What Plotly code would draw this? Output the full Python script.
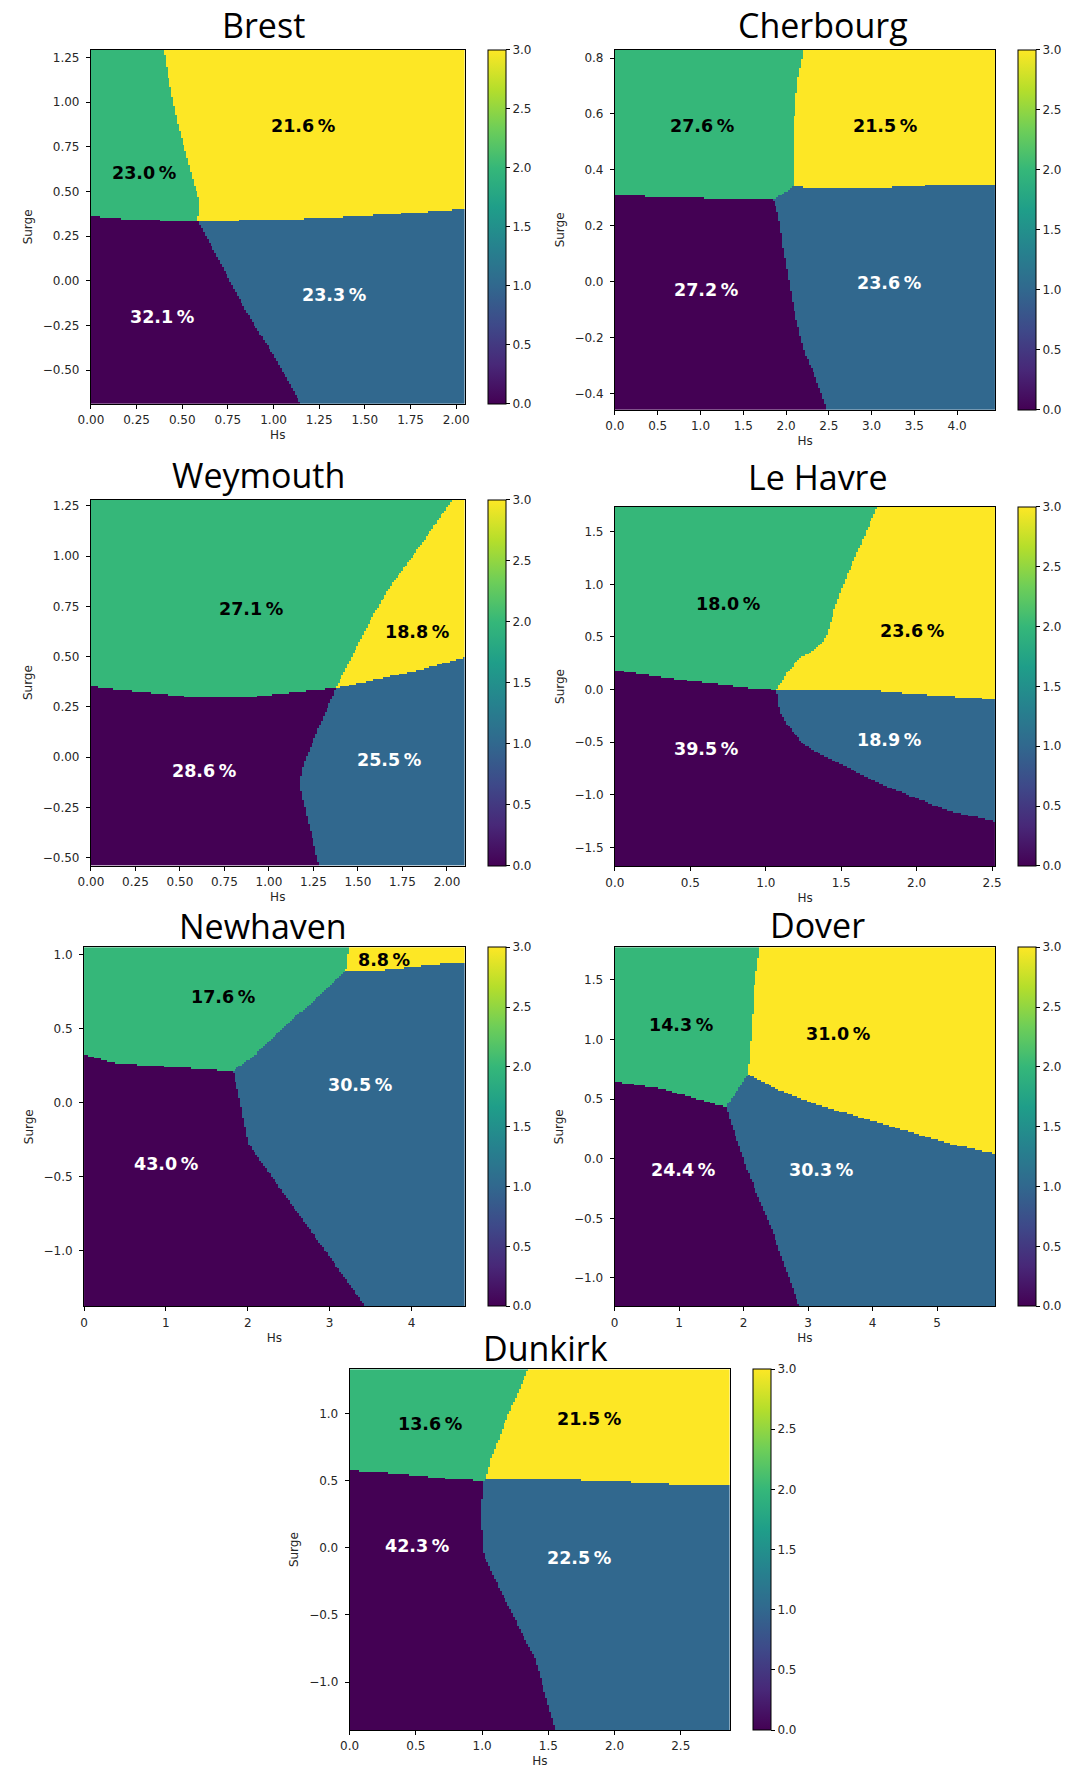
import numpy as np
import plotly.graph_objects as go

# ======================= DATA =======================
# Each station: grid extent, boundary polylines,
# cluster shares (cluster 0,1,2,3) and where the share labels sit.

# ---------- Brest ----------
brest_hs_extent = [0.0, 2.046]
brest_surge_extent = [-0.690, 1.293]
brest_split_hs = [0.000, 0.180, 0.386, 0.586, 1.054, 1.425, 1.796, 2.046]
brest_split_surge = [0.360, 0.345, 0.336, 0.332, 0.341, 0.358, 0.382, 0.401]
brest_low_surge = [-0.690, -0.448, -0.205, -0.037, 0.149, 0.332]
brest_low_hs = [1.147, 1.017, 0.868, 0.776, 0.683, 0.586]
brest_up_surge = [0.332, 0.448, 0.522, 0.728, 0.858, 1.045, 1.194, 1.293]
brest_up_hs = [0.586, 0.594, 0.571, 0.516, 0.479, 0.442, 0.414, 0.399]
brest_pct = [32.1, 23.3, 23.0, 21.6]
brest_pct_hs = [0.39, 1.332, 0.293, 1.161]
brest_pct_surge = [-0.205, -0.078, 0.603, 0.868]
brest_xticks = [0.0, 0.25, 0.5, 0.75, 1.0, 1.25, 1.5, 1.75, 2.0]
brest_xtext = ["0.00", "0.25", "0.50", "0.75", "1.00", "1.25", "1.50", "1.75", "2.00"]
brest_yticks = [-0.5, -0.25, 0.0, 0.25, 0.5, 0.75, 1.0, 1.25]
brest_ytext = ["\u22120.50", "\u22120.25", "0.00", "0.25", "0.50", "0.75", "1.00", "1.25"]

# ---------- Cherbourg ----------
cher_hs_extent = [0.0, 4.447]
cher_surge_extent = [-0.459, 0.830]
cher_split_hs = [0.000, 0.428, 1.300, 1.853, 1.972, 2.091, 2.329, 3.121, 3.834, 4.447]
cher_split_surge = [0.308, 0.304, 0.296, 0.293, 0.314, 0.340, 0.334, 0.335, 0.347, 0.347]
cher_low_surge = [-0.459, -0.330, -0.247, -0.092, 0.111, 0.242, 0.293]
cher_low_hs = [2.479, 2.329, 2.210, 2.091, 1.972, 1.913, 1.853]
cher_up_surge = [0.340, 0.433, 0.528, 0.647, 0.743, 0.830]
cher_up_hs = [2.091, 2.083, 2.091, 2.111, 2.151, 2.210]
cher_pct = [27.2, 23.6, 27.6, 21.5]
cher_pct_hs = [1.061, 3.208, 1.022, 3.152]
cher_pct_surge = [-0.030, -0.006, 0.558, 0.558]
cher_xticks = [0.0, 0.5, 1.0, 1.5, 2.0, 2.5, 3.0, 3.5, 4.0]
cher_xtext = ["0.0", "0.5", "1.0", "1.5", "2.0", "2.5", "3.0", "3.5", "4.0"]
cher_yticks = [-0.4, -0.2, 0.0, 0.2, 0.4, 0.6, 0.8]
cher_ytext = ["\u22120.4", "\u22120.2", "0.0", "0.2", "0.4", "0.6", "0.8"]

# ---------- Weymouth ----------
wey_hs_extent = [0.0, 2.099]
wey_surge_extent = [-0.538, 1.280]
wey_split_hs = [0.000, 0.129, 0.320, 0.605, 0.891, 1.176, 1.376, 1.652, 1.842, 2.099]
wey_split_surge = [0.353, 0.339, 0.323, 0.295, 0.298, 0.328, 0.344, 0.397, 0.434, 0.497]
wey_low_surge = [-0.538, -0.298, -0.132, -0.033, 0.132, 0.344]
wey_low_hs = [1.281, 1.214, 1.172, 1.195, 1.271, 1.376]
wey_up_surge = [0.344, 0.497, 0.695, 0.861, 1.043, 1.192, 1.280]
wey_up_hs = [1.376, 1.461, 1.576, 1.690, 1.842, 1.956, 2.032]
wey_pct = [28.6, 25.5, 27.1, 18.8]
wey_pct_hs = [0.634, 1.675, 0.900, 1.833]
wey_pct_surge = [-0.066, -0.013, 0.737, 0.621]
wey_xticks = [0.0, 0.25, 0.5, 0.75, 1.0, 1.25, 1.5, 1.75, 2.0]
wey_xtext = ["0.00", "0.25", "0.50", "0.75", "1.00", "1.25", "1.50", "1.75", "2.00"]
wey_yticks = [-0.5, -0.25, 0.0, 0.25, 0.5, 0.75, 1.0, 1.25]
wey_ytext = ["\u22120.50", "\u22120.25", "0.00", "0.25", "0.50", "0.75", "1.00", "1.25"]

# ---------- Le Havre ----------
lh_hs_extent = [0.0, 2.522]
lh_surge_extent = [-1.677, 1.737]
lh_split_hs = [0.000, 0.422, 0.872, 1.074, 1.658, 1.995, 2.522]
lh_split_surge = [0.187, 0.100, 0.022, 0.000, 0.000, -0.040, -0.089]
lh_low_surge = [-1.244, -1.149, -1.022, -0.896, -0.737, -0.610, -0.516, -0.326, -0.200, 0.000]
lh_low_hs = [2.522, 2.219, 1.995, 1.770, 1.545, 1.366, 1.253, 1.141, 1.096, 1.074]
lh_up_surge = [0.000, 0.165, 0.307, 0.377, 0.465, 0.592, 0.750, 0.940, 1.098, 1.320, 1.540, 1.737]
lh_up_hs = [1.074, 1.141, 1.231, 1.321, 1.388, 1.422, 1.455, 1.500, 1.545, 1.613, 1.680, 1.740]
lh_pct = [39.5, 18.9, 18.0, 23.6]
lh_pct_hs = [0.602, 1.819, 0.748, 1.972]
lh_pct_surge = [-0.563, -0.478, 0.813, 0.554]
lh_xticks = [0.0, 0.5, 1.0, 1.5, 2.0, 2.5]
lh_xtext = ["0.0", "0.5", "1.0", "1.5", "2.0", "2.5"]
lh_yticks = [-1.5, -1.0, -0.5, 0.0, 0.5, 1.0, 1.5]
lh_ytext = ["\u22121.5", "\u22121.0", "\u22120.5", "0.0", "0.5", "1.0", "1.5"]

# ---------- Newhaven ----------
nh_hs_extent = [0.0, 4.649]
nh_surge_extent = [-1.376, 1.052]
nh_split_hs = [0.000, 0.372, 1.198, 1.818, 2.107, 2.438, 2.851, 3.182, 3.678, 4.298, 4.649]
nh_split_surge = [0.324, 0.268, 0.236, 0.214, 0.331, 0.511, 0.714, 0.890, 0.900, 0.935, 0.946]
nh_low_surge = [-1.376, -0.930, -0.615, -0.277, 0.016, 0.214]
nh_low_hs = [3.430, 2.851, 2.438, 2.004, 1.901, 1.818]
nh_up_surge = [0.880, 1.052]
nh_up_hs = [3.190, 3.230]
nh_pct = [43.0, 30.5, 17.6, 8.8]
nh_pct_hs = [1.000, 3.376, 1.702, 3.665]
nh_pct_surge = [-0.417, 0.117, 0.718, 0.966]
nh_xticks = [0, 1, 2, 3, 4]
nh_xtext = ["0", "1", "2", "3", "4"]
nh_yticks = [-1.0, -0.5, 0.0, 0.5, 1.0]
nh_ytext = ["\u22121.0", "\u22120.5", "0.0", "0.5", "1.0"]

# ---------- Dover ----------
dv_hs_extent = [0.0, 5.904]
dv_surge_extent = [-1.237, 1.774]
dv_split_hs = [0.000, 0.726, 1.725, 2.066, 2.566, 3.092, 4.143, 5.195, 5.904]
dv_split_surge = [0.648, 0.587, 0.433, 0.704, 0.573, 0.461, 0.293, 0.126, 0.042]
dv_low_surge = [-1.237, -0.628, -0.070, 0.433]
dv_low_hs = [2.855, 2.461, 2.040, 1.725]
dv_up_surge = [0.704, 1.047, 1.466, 1.774]
dv_up_hs = [2.066, 2.119, 2.171, 2.250]
dv_pct = [24.4, 30.3, 14.3, 31.0]
dv_pct_hs = [1.067, 3.197, 1.025, 3.470]
dv_pct_surge = [-0.092, -0.092, 1.123, 1.042]
dv_xticks = [0, 1, 2, 3, 4, 5]
dv_xtext = ["0", "1", "2", "3", "4", "5"]
dv_yticks = [-1.0, -0.5, 0.0, 0.5, 1.0, 1.5]
dv_ytext = ["\u22121.0", "\u22120.5", "0.0", "0.5", "1.0", "1.5"]

# ---------- Dunkirk ----------
dk_hs_extent = [0.0, 2.871]
dk_surge_extent = [-1.357, 1.330]
dk_split_hs = [0.000, 0.353, 0.736, 1.005, 1.030, 1.503, 2.014, 2.526, 2.871]
dk_split_surge = [0.576, 0.553, 0.516, 0.499, 0.511, 0.511, 0.496, 0.471, 0.467]
dk_low_surge = [-1.357, -0.824, -0.526, -0.278, -0.030, 0.268, 0.499]
dk_low_hs = [1.554, 1.401, 1.247, 1.120, 1.005, 0.992, 1.005]
dk_up_surge = [0.511, 0.665, 0.988, 1.330]
dk_up_hs = [1.030, 1.069, 1.196, 1.350]
dk_pct = [42.3, 22.5, 13.6, 21.5]
dk_pct_hs = [0.506, 1.733, 0.603, 1.810]
dk_pct_surge = [0.015, -0.079, 0.921, 0.958]
dk_xticks = [0.0, 0.5, 1.0, 1.5, 2.0, 2.5]
dk_xtext = ["0.0", "0.5", "1.0", "1.5", "2.0", "2.5"]
dk_yticks = [-1.0, -0.5, 0.0, 0.5, 1.0]
dk_ytext = ["\u22121.0", "\u22120.5", "0.0", "0.5", "1.0"]

cbar_ticks = [0.0, 0.5, 1.0, 1.5, 2.0, 2.5, 3.0]
cbar_text = ["0.0", "0.5", "1.0", "1.5", "2.0", "2.5", "3.0"]

# ======================= LAYOUT (pixels) =======================
W, H = 1080, 1771
NGRID = 200

stations = [
    dict(name="Brest", ext=(brest_hs_extent, brest_surge_extent),
         split=(brest_split_hs, brest_split_surge), low=(brest_low_surge, brest_low_hs),
         up=(brest_up_surge, brest_up_hs), pct=(brest_pct, brest_pct_hs, brest_pct_surge),
         xt=(brest_xticks, brest_xtext), yt=(brest_yticks, brest_ytext),
         box=(79.3, 48.7, 459.7, 403.3), cb=484, title=(255, 24)),
    dict(name="Cherbourg", ext=(cher_hs_extent, cher_surge_extent),
         split=(cher_split_hs, cher_split_surge), low=(cher_low_surge, cher_low_hs),
         up=(cher_up_surge, cher_up_hs), pct=(cher_pct, cher_pct_hs, cher_pct_surge),
         xt=(cher_xticks, cher_xtext), yt=(cher_yticks, cher_ytext),
         box=(612.7, 48.7, 1000, 409.3), cb=1023, title=(824, 24)),
    dict(name="Weymouth", ext=(wey_hs_extent, wey_surge_extent),
         split=(wey_split_hs, wey_split_surge), low=(wey_low_surge, wey_low_hs),
         up=(wey_up_surge, wey_up_hs), pct=(wey_pct, wey_pct_hs, wey_pct_surge),
         xt=(wey_xticks, wey_xtext), yt=(wey_yticks, wey_ytext),
         box=(79.3, 499, 459.7, 865), cb=484, title=(250, 474)),
    dict(name="Le Havre", ext=(lh_hs_extent, lh_surge_extent),
         split=(lh_split_hs, lh_split_surge), low=(lh_low_surge, lh_low_hs),
         up=(lh_up_surge, lh_up_hs), pct=(lh_pct, lh_pct_hs, lh_pct_surge),
         xt=(lh_xticks, lh_xtext), yt=(lh_yticks, lh_ytext),
         box=(612.7, 506, 1000, 865.7), cb=1023, title=(819, 476)),
    dict(name="Newhaven", ext=(nh_hs_extent, nh_surge_extent),
         split=(nh_split_hs, nh_split_surge), low=(nh_low_surge, nh_low_hs),
         up=(nh_up_surge, nh_up_hs), pct=(nh_pct, nh_pct_hs, nh_pct_surge),
         xt=(nh_xticks, nh_xtext), yt=(nh_yticks, nh_ytext),
         box=(72.3, 946.7, 459.7, 1306), cb=484, title=(254, 926)),
    dict(name="Dover", ext=(dv_hs_extent, dv_surge_extent),
         split=(dv_split_hs, dv_split_surge), low=(dv_low_surge, dv_low_hs),
         up=(dv_up_surge, dv_up_hs), pct=(dv_pct, dv_pct_hs, dv_pct_surge),
         xt=(dv_xticks, dv_xtext), yt=(dv_yticks, dv_ytext),
         box=(612.3, 946.7, 1000, 1306), cb=1023, title=(819, 925)),
    dict(name="Dunkirk", ext=(dk_hs_extent, dk_surge_extent),
         split=(dk_split_hs, dk_split_surge), low=(dk_low_surge, dk_low_hs),
         up=(dk_up_surge, dk_up_hs), pct=(dk_pct, dk_pct_hs, dk_pct_surge),
         xt=(dk_xticks, dk_xtext), yt=(dk_yticks, dk_ytext),
         box=(342.7, 1369, 729.7, 1730), cb=753, title=(542, 1348)),
]

TICK_FONT = dict(family="DejaVu Sans", size=12, color="#262626")
LABEL_FONT = dict(family="DejaVu Sans", size=12, color="#262626")
TITLE_FONT = dict(family="Open Sans", size=34, color="black")
PCT_FONT_SIZE = 17.5


def classify(hs_ext, s_ext, split, low, up):
    x0, x1 = hs_ext
    y0, y1 = s_ext
    dx = (x1 - x0) / NGRID
    dy = (y1 - y0) / NGRID
    xs = x0 + (np.arange(NGRID) + 0.5) * dx
    ys = y0 + (np.arange(NGRID) + 0.5) * dy
    X, Y = np.meshgrid(xs, ys)
    thr = np.interp(X, np.array(split[0]), np.array(split[1]))
    lo_s, lo_h = np.array(low[0]), np.array(low[1])
    o = np.argsort(lo_s)
    lo_thr = np.interp(Y, lo_s[o], lo_h[o])
    up_s, up_h = np.array(up[0]), np.array(up[1])
    o = np.argsort(up_s)
    up_thr = np.interp(Y, up_s[o], up_h[o])
    top = Y > thr
    z = np.where(top, np.where(X > up_thr, 3, 2), np.where(X > lo_thr, 1, 0))
    return xs, ys, z.astype(float)


fig = go.Figure()
annotations = []
layout_axes = {}

for i, st in enumerate(stations, start=1):
    hs_ext, s_ext = st["ext"]
    xs, ys, z = classify(hs_ext, s_ext, st["split"], st["low"], st["up"])
    l, t, r, b = st["box"]
    xa = "x" if i == 1 else f"x{i}"
    ya = "y" if i == 1 else f"y{i}"
    fig.add_trace(go.Heatmap(
        x=xs, y=ys, z=z, xaxis=xa, yaxis=ya,
        colorscale="Viridis", zmin=0, zmax=3, hoverinfo="skip",
        colorbar=dict(
            x=st["cb"] / W, xanchor="left", xpad=0, ypad=0,
            y=1 - (t + b) / 2 / H, yanchor="middle",
            len=(b - t) / H, lenmode="fraction",
            thickness=18, thicknessmode="pixels",
            outlinewidth=1, outlinecolor="black",
            tickvals=cbar_ticks, ticktext=cbar_text,
            ticks="outside", ticklen=4, tickcolor="black",
            tickfont=TICK_FONT,
        ),
    ))
    xkey = "xaxis" if i == 1 else f"xaxis{i}"
    ykey = "yaxis" if i == 1 else f"yaxis{i}"
    layout_axes[xkey] = dict(
        domain=[l / W, r / W], anchor=ya, range=hs_ext,
        tickvals=st["xt"][0], ticktext=st["xt"][1], tickfont=TICK_FONT,
        showline=True, linecolor="black", linewidth=1, mirror=True,
        ticks="outside", ticklen=4, tickcolor="black", ticklabelstandoff=1,
        showgrid=False, zeroline=False,
        title=dict(text="Hs", font=LABEL_FONT, standoff=4),
    )
    layout_axes[ykey] = dict(
        domain=[1 - b / H, 1 - t / H], anchor=xa, range=s_ext,
        tickvals=st["yt"][0], ticktext=st["yt"][1], tickfont=TICK_FONT,
        showline=True, linecolor="black", linewidth=1, mirror=True,
        ticks="outside", ticklen=4, tickcolor="black", ticklabelstandoff=4,
        showgrid=False, zeroline=False,
        title=dict(text="Surge", font=LABEL_FONT, standoff=7),
    )
    tx, ty = st["title"]
    annotations.append(dict(
        x=tx / W, y=1 - ty / H, xref="paper", yref="paper",
        text=st["name"], showarrow=False, xanchor="center", yanchor="middle",
        borderpad=0, font=TITLE_FONT,
    ))
    vals, phs, psu = st["pct"]
    for k, (v, px, py) in enumerate(zip(vals, phs, psu)):
        annotations.append(dict(
            x=px, y=py, xref=xa, yref=ya, text=f"{v:.1f}\u2009%", showarrow=False,
            xanchor="center", yanchor="middle",
            font=dict(family="DejaVu Sans", size=PCT_FONT_SIZE, weight="bold",
                      color="white" if k < 2 else "black"),
        ))

fig.update_layout(
    width=W, height=H, margin=dict(l=0, r=0, t=0, b=0),
    paper_bgcolor="white", plot_bgcolor="white",
    showlegend=False, annotations=annotations, **layout_axes,
)

# remove the browser's default 8px body margin so the figure sits at (0, 0)
fig.write_html(
    "out.html",
    config={"displayModeBar": False, "staticPlot": True},
    post_script="document.body.style.margin='0';document.body.style.padding='0';",
)
